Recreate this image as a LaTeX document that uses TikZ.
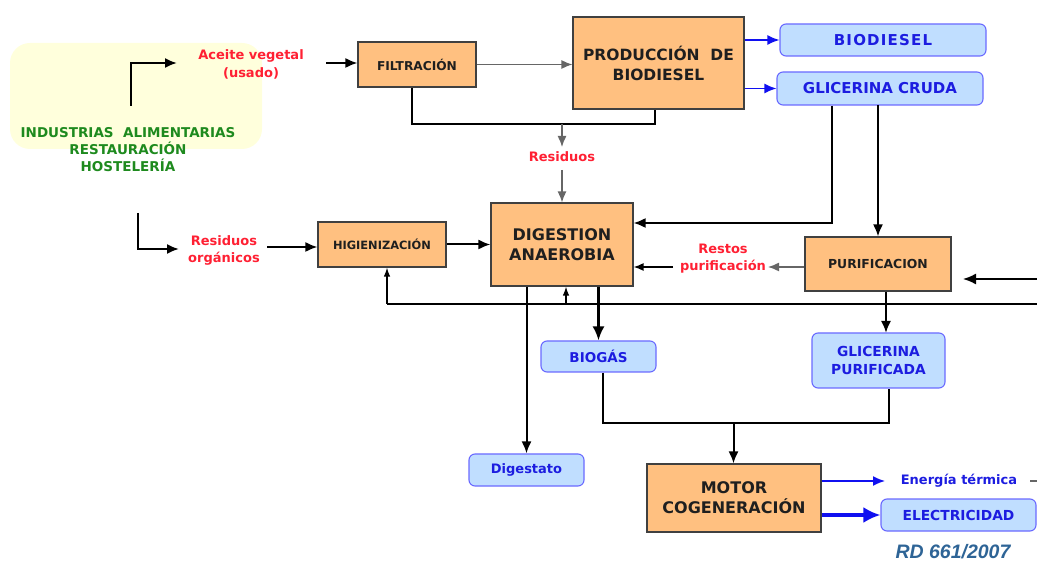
\documentclass[tikz,border=0pt]{standalone}
\usepackage{fontspec}
\setmainfont{DejaVu Sans}
\newfontfamily\rdfont{Liberation Sans}
\usetikzlibrary{arrows.meta}
\definecolor{orfill}{HTML}{FFC080}
\definecolor{bxdraw}{HTML}{404040}
\definecolor{blfill}{HTML}{C0DEFF}
\definecolor{bldraw}{HTML}{6A6AFF}
\definecolor{bltext}{HTML}{1C1CE0}
\definecolor{redtxt}{HTML}{FF2033}
\definecolor{grntxt}{HTML}{1E8A1E}
\definecolor{ybg}{HTML}{FFFFDC}
\definecolor{rdcol}{HTML}{2E6496}
\definecolor{blarrow}{HTML}{1010F0}
\newcommand{\fsz}[2]{\fontsize{#1}{#2}\selectfont}
\tikzset{
  obox/.style={draw=bxdraw, fill=orfill, line width=1.1pt, inner sep=0pt, align=center, text=black!88},
  bbox/.style={draw=bldraw, fill=blfill, line width=1.1pt, rounded corners=6pt, inner sep=0pt, align=center, text=bltext},
  lbl/.style={text=redtxt, align=center, inner sep=0pt},
  conn/.style={line width=2pt, black},
  arr/.style={conn, -{Latex[length=12pt,width=10pt]}},
  garr/.style={line width=1.4pt, black!60, -{Latex[length=11pt,width=9pt]}},
  farr/.style={line width=1.3pt, black, -{Latex[length=9pt,width=6.5pt]}},
  bigarr/.style={line width=2.4pt, black, -{Latex[length=14pt,width=12pt]}},
  barr/.style={line width=1.5pt, blarrow, -{Latex[length=12pt,width=10pt]}},
  bbarr/.style={line width=3.2pt, blarrow, -{Latex[length=17pt,width=16pt]}}
}
\begin{document}
\begin{tikzpicture}[x=1pt,y=-1pt]
\useasboundingbox (0,0) rectangle (1037,561);
% background of the sources
\fill[ybg, rounded corners=20pt] (10,43) rectangle (262,149);

% text labels
\node[text=grntxt, align=center, inner sep=0pt, font=\bfseries\fsz{13.5}{17}] (ind) at (128,150)
  {INDUSTRIAS\ \ ALIMENTARIAS\\RESTAURACIÓN\\HOSTELERÍA};
\node[lbl, font=\bfseries\fsz{13}{18}] (ace) at (251,64) {Aceite vegetal\\(usado)};
\node[lbl, font=\bfseries\fsz{13}{17}] (res1) at (562,157) {Residuos};
\node[lbl, font=\bfseries\fsz{13}{17}] (reso) at (224,250) {Residuos\\orgánicos};
\node[lbl, font=\bfseries\fsz{13}{17}] (rst) at (723,258.5) {Restos\\purificación};
\node[text=bltext, inner sep=0pt, font=\bfseries\fsz{13}{16}] (ener) at (959,481) {Energía\ térmica};
\node[text=rdcol, inner sep=0pt, font=\rdfont\bfseries\itshape\fsz{19.5}{22}] (rd) at (953,552) {RD 661/2007};

% orange process boxes
\node[obox, minimum width=118pt, minimum height=45pt, font=\bfseries\fsz{12.2}{14}] (filt) at (417,64.5) {FILTRACIÓN};
\node[obox, minimum width=171pt, minimum height=92pt, font=\bfseries\fsz{15.5}{20}] (prod) at (658.5,63) {PRODUCCIÓN\ \ DE\\BIODIESEL};
\node[obox, minimum width=128pt, minimum height=45pt, font=\bfseries\fsz{11.4}{14}] (hig) at (382,244.5) {HIGIENIZACIÓN};
\node[obox, minimum width=142pt, minimum height=83pt, font=\bfseries\fsz{16}{20}] (dig) at (562,244.5) {DIGESTION\\ANAEROBIA};
\node[obox, minimum width=146pt, minimum height=54pt, font=\bfseries\fsz{12.4}{14}] (pur) at (878,264) {PURIFICACION};
\node[obox, minimum width=174pt, minimum height=68pt, font=\bfseries\fsz{16}{20}] (mot) at (734,498) {MOTOR\\COGENERACIÓN};

% blue product boxes
\node[bbox, minimum width=206pt, minimum height=32pt, font=\bfseries\fsz{15}{18}\addfontfeature{LetterSpace=8}] (biod) at (883,40) {BIODIESEL};
\node[bbox, minimum width=206pt, minimum height=33pt, font=\bfseries\fsz{15}{18}] (gcru) at (880,88.5) {GLICERINA CRUDA};
\node[bbox, minimum width=115pt, minimum height=31pt, font=\bfseries\fsz{13.5}{16}] (biog) at (598.5,356.5) {BIOGÁS};
\node[bbox, minimum width=133pt, minimum height=55pt, font=\bfseries\fsz{13.8}{18.3}] (gpur) at (878.5,360.5) {GLICERINA\\PURIFICADA};
\node[bbox, minimum width=115pt, minimum height=32pt, font=\bfseries\fsz{13}{16}] (dgs) at (526.5,470) {Digestato};
\node[bbox, minimum width=155pt, minimum height=32pt, font=\bfseries\fsz{13.8}{16}] (elec) at (958.5,515) {ELECTRICIDAD};

% coordinates for free ends and bends
\coordinate (c1) at (131,106);  \coordinate (c1e) at (177,63);
\coordinate (a2) at (326,63);
\coordinate (f1) at (412,124);  \coordinate (p1) at (655,124);
\coordinate (r0) at (562,124);  \coordinate (r1) at (562,147);
\coordinate (r2) at (562,170);
\coordinate (g1) at (832,223);  \coordinate (g2) at (878,105);
\coordinate (e1) at (1037,279); \coordinate (e2) at (963,279);
\coordinate (q1) at (768,267);  \coordinate (q2) at (673,267);
\coordinate (h1) at (137.5,213); \coordinate (h2) at (179,249);
\coordinate (h3) at (267,247);
\coordinate (fb1) at (387,304); \coordinate (fb2) at (1037,304);
\coordinate (fb3) at (566,304);
\coordinate (u1) at (886,333);
\coordinate (m1) at (603,423);  \coordinate (m2) at (889,423);
\coordinate (m3) at (733.5,423);
\coordinate (t1) at (885,481);
\coordinate (d1) at (1030,481); \coordinate (d2) at (1037,481);

% connectors
\draw[arr] (c1) |- (c1e);
\draw[arr] (a2) -- (filt.west |- a2);
\draw[garr] (filt.east) -- (filt.east -| prod.west);
\draw[conn] (filt.south -| f1) -- (f1) -- (p1) -- (prod.south -| p1);
\draw[garr] (r0) -- (r1);
\draw[garr] (r2) -- (dig.north);
\draw[barr] (prod.east |- biod) -- (biod.west);
\draw[barr] (prod.east |- gcru) -- (gcru.west);
\draw[arr] (gcru.south -| g1) |- (dig.east |- g1);
\draw[arr] (g2) -- (pur.north);
\draw[line width=1.6pt, -{Latex[length=13pt,width=11pt]}] (e1) -- (e2);
\draw[garr] (pur.west |- q1) -- (q1);
\draw[line width=1.5pt, black, -{Latex[length=10pt,width=8pt]}] (q2) -- (dig.east |- q2);
\draw[arr] (h1) |- (h2);
\draw[arr] (h3) -- (hig.west |- h3);
\draw[arr] (hig.east) -- (dig.west |- hig.east);
\draw[line width=1.3pt] (fb2) -- (fb1);
\draw[farr] (fb1) -- (hig.south -| fb1);
\draw[farr] (fb3) -- (dig.south -| fb3);
\draw[arr] (dig.south -| dgs.north) -- (dgs.north);
\draw[bigarr] (dig.south -| biog.north) -- (biog.north);
\draw[arr] (pur.south -| u1) -- (u1);
\draw[conn] (biog.south -| m1) -- (m1) -- (m2) -- (gpur.south -| m2);
\draw[arr] (m3) -- (mot.north -| m3);
\draw[barr] (mot.east |- t1) -- (t1);
\draw[bbarr] (mot.east |- elec.west) -- (elec.west);
\draw[line width=1.3pt, black!60] (d1) -- (d2);
\end{tikzpicture}
\end{document}
